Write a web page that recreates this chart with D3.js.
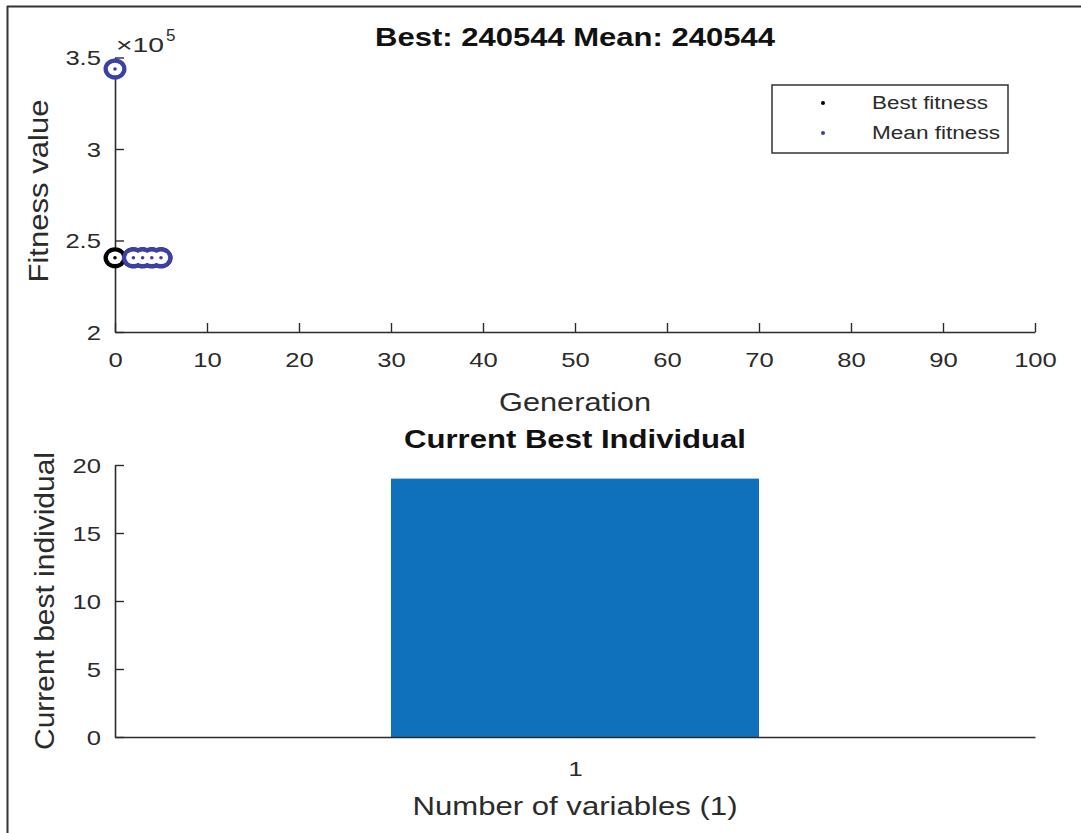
<!DOCTYPE html>
<html>
<head>
<meta charset="utf-8">
<script src="https://cdn.jsdelivr.net/npm/d3@7"></script>
<style>
  html, body { margin: 0; padding: 0; background: #fff; }
  svg { display: block; font-family: "Liberation Sans", Arial, Helvetica, sans-serif; }
</style>
</head>
<body>
<svg id="chart" width="1081" height="833"></svg>
<script>
// GA progress: best and mean fitness per generation
const bestGenerations = [0, 2, 3, 4, 5];
const bestFitness = [240544, 240544, 240544, 240544, 240544];
const meanGenerations = [0, 2, 3, 4, 5];
const meanFitness = [343700, 240544, 240544, 240544, 240544];
const genTicks = [0, 10, 20, 30, 40, 50, 60, 70, 80, 90, 100];
const fitnessTicks = [2e5, 2.5e5, 3e5, 3.5e5];
const fitnessTickLabels = ["2", "2.5", "3", "3.5"];

// Current best individual (one variable)
const variables = [1];
const individualValues = [19];
const individualTicks = [0, 5, 10, 15, 20];

const svg = d3.select("#chart");
const axisColor = "#2b2b2b";
const textColor = "#2b2b2b";
const bestColor = "#000";
const meanColor = "#3b40a8";
const widen = 1.22;   // the figure's font renders wider than Liberation Sans

// stretch glyphs horizontally by a factor
function stretch(sel, factor) {
  sel.each(function () {
    const len = this.getComputedTextLength();
    d3.select(this).attr("textLength", len * factor).attr("lengthAdjust", "spacingAndGlyphs");
  });
  return sel;
}

// outer frame (top and left edges)
svg.append("line").attr("x1", 7).attr("x2", 1081).attr("y1", 6.5).attr("y2", 6.5)
  .attr("stroke", "#333").attr("stroke-width", 2);
svg.append("line").attr("x1", 7.5).attr("x2", 7.5).attr("y1", 6).attr("y2", 833)
  .attr("stroke", "#333").attr("stroke-width", 2);

function styleAxis(ax, isX) {
  ax.select(".domain").attr("stroke", axisColor).attr("stroke-width", 1.6);
  ax.selectAll(".tick line").attr("stroke", axisColor).attr("stroke-width", 1.4);
  const t = ax.selectAll(".tick text").attr("fill", textColor).style("font-size", "21px")
    .style("font-family", "Liberation Sans, Arial, sans-serif")
    .attr("dy", isX ? "0.71em" : "0.35em");
  stretch(t, widen);
}

// ---------- Top panel ----------
const x1 = d3.scaleLinear().domain([0, 100]).range([115, 1035]);
const y1 = d3.scaleLinear().domain([2e5, 3.5e5]).range([332, 57.5]);

const topPanel = svg.append("g");

const xAxis1 = topPanel.append("g").attr("transform", "translate(0,332)")
  .call(d3.axisBottom(x1).tickValues(genTicks).tickSize(-9).tickPadding(20).tickSizeOuter(0));
const yAxis1 = topPanel.append("g").attr("transform", "translate(115,0)")
  .call(d3.axisLeft(y1).tickValues(fitnessTicks).tickSize(-9).tickPadding(14).tickSizeOuter(0)
    .tickFormat((d, i) => fitnessTickLabels[i]));
styleAxis(xAxis1, true);
styleAxis(yAxis1, false);

// exponent label
const expo = topPanel.append("text").attr("x", 116).attr("y", 52).attr("fill", textColor)
  .style("font-size", "21px");
expo.append("tspan").attr("textLength", 48).attr("lengthAdjust", "spacingAndGlyphs").text("\u00D710");
expo.append("tspan").attr("dx", 2).attr("dy", -11).style("font-size", "17px").text("5");

// title and labels
topPanel.append("text").attr("x", 575).attr("y", 46).attr("text-anchor", "middle")
  .attr("fill", "#111").style("font-size", "25px").style("font-weight", "bold")
  .attr("textLength", 400).attr("lengthAdjust", "spacingAndGlyphs").text("Best: 240544 Mean: 240544");
topPanel.append("text").attr("x", 575).attr("y", 411).attr("text-anchor", "middle")
  .attr("fill", textColor).style("font-size", "25px")
  .attr("textLength", 152).attr("lengthAdjust", "spacingAndGlyphs").text("Generation");
topPanel.append("text").attr("transform", "translate(48,191) rotate(-90)").attr("text-anchor", "middle")
  .attr("fill", textColor).style("font-size", "27px")
  .attr("textLength", 183).attr("lengthAdjust", "spacingAndGlyphs").text("Fitness value");

// markers: thick ring with a centre dot; overlapping rings merge into one outline
function drawSeries(gens, vals, color) {
  const g = topPanel.append("g");
  const data = gens.map((d, i) => ({ g: d, v: vals[i] }));
  g.selectAll("ellipse.ring").data(data).join("ellipse").attr("class", "ring")
    .attr("cx", d => x1(d.g)).attr("cy", d => y1(d.v)).attr("rx", 11.5).attr("ry", 10.5)
    .attr("fill", color);
  g.selectAll("ellipse.hole").data(data).join("ellipse").attr("class", "hole")
    .attr("cx", d => x1(d.g)).attr("cy", d => y1(d.v)).attr("rx", 7.2).attr("ry", 6.3)
    .attr("fill", "#fff");
  g.selectAll("circle.dot").data(data).join("circle").attr("class", "dot")
    .attr("cx", d => x1(d.g)).attr("cy", d => y1(d.v)).attr("r", 1.8)
    .attr("fill", color);
}
drawSeries(bestGenerations, bestFitness, bestColor);
drawSeries(meanGenerations, meanFitness, meanColor);

// legend
const legend = topPanel.append("g");
legend.append("rect").attr("x", 772).attr("y", 85).attr("width", 236).attr("height", 68)
  .attr("fill", "#fff").attr("stroke", "#333").attr("stroke-width", 1.5);
const legendItems = [
  { label: "Best fitness", color: bestColor, width: 116 },
  { label: "Mean fitness", color: meanColor, width: 128 }
];
legendItems.forEach((d, i) => {
  const yy = 103 + i * 30;
  legend.append("circle").attr("cx", 823).attr("cy", yy).attr("r", 2).attr("fill", d.color);
  legend.append("text").attr("x", 872).attr("y", yy).attr("dy", "0.35em")
    .attr("fill", textColor).style("font-size", "18px")
    .attr("textLength", d.width).attr("lengthAdjust", "spacingAndGlyphs").text(d.label);
});

// ---------- Bottom panel ----------
const x2 = d3.scaleLinear().domain([0, 2]).range([115, 1035]);
const y2 = d3.scaleLinear().domain([0, 20]).range([737, 465]);
const barWidth = 0.8;

const bottomPanel = svg.append("g");
bottomPanel.selectAll("rect.bar").data(variables).join("rect").attr("class", "bar")
  .attr("x", d => x2(d - barWidth / 2)).attr("width", d => x2(d + barWidth / 2) - x2(d - barWidth / 2))
  .attr("y", (d, i) => y2(individualValues[i])).attr("height", (d, i) => y2(0) - y2(individualValues[i]))
  .attr("fill", "#0f70bb");

const xAxis2 = bottomPanel.append("g").attr("transform", "translate(0,737)")
  .call(d3.axisBottom(x2).tickValues(variables).tickSize(0).tickPadding(24).tickSizeOuter(0)
    .tickFormat(d3.format("d")));
const yAxis2 = bottomPanel.append("g").attr("transform", "translate(115,0)")
  .call(d3.axisLeft(y2).tickValues(individualTicks).tickSize(-9).tickPadding(14).tickSizeOuter(0));
styleAxis(xAxis2, true);
styleAxis(yAxis2, false);

bottomPanel.append("text").attr("x", 575).attr("y", 448).attr("text-anchor", "middle")
  .attr("fill", "#111").style("font-size", "25px").style("font-weight", "bold")
  .attr("textLength", 342).attr("lengthAdjust", "spacingAndGlyphs").text("Current Best Individual");
bottomPanel.append("text").attr("x", 575).attr("y", 815).attr("text-anchor", "middle")
  .attr("fill", textColor).style("font-size", "25px")
  .attr("textLength", 325).attr("lengthAdjust", "spacingAndGlyphs").text("Number of variables (1)");
bottomPanel.append("text").attr("transform", "translate(54,601) rotate(-90)").attr("text-anchor", "middle")
  .attr("fill", textColor).style("font-size", "27px")
  .attr("textLength", 298).attr("lengthAdjust", "spacingAndGlyphs").text("Current best individual");
</script>
</body>
</html>
